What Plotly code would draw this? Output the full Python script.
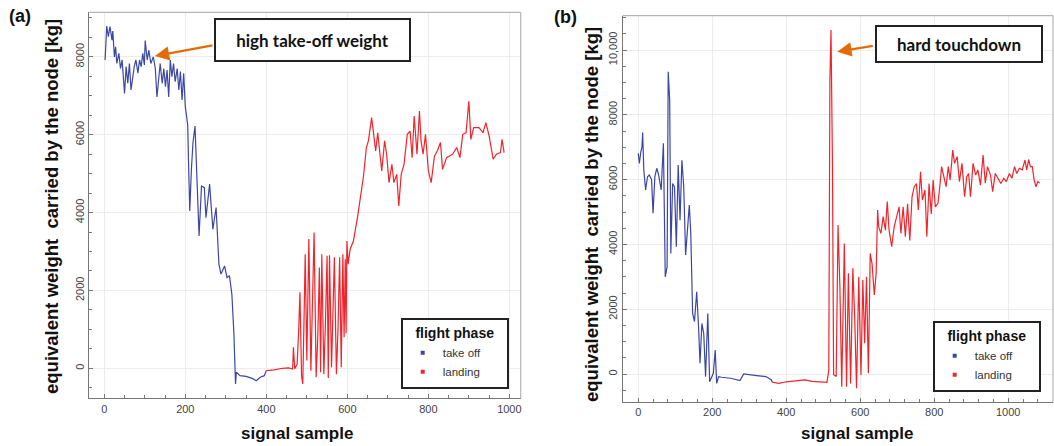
import plotly.graph_objects as go

# ---------------- data ----------------
# panel (a)
a_takeoff_x = [2, 6, 10, 14, 19, 21, 25, 28, 31, 36, 40, 44, 50, 54, 58, 62, 66, 70, 74, 78,
               83, 87, 91, 95, 99, 101, 106, 110, 115, 121, 126, 130, 134, 138, 143, 147, 151, 155, 159, 163,
               167, 171, 175, 180, 184, 188, 192, 196, 200, 203, 206, 208, 211, 215, 219, 224, 230, 234, 240, 247,
               251, 260, 268, 276, 283, 288, 297, 303, 309, 315, 320, 324, 326, 335, 350, 365, 375, 385, 395, 400]
a_takeoff_y = [7920, 8790, 8520, 8780, 8430, 8660, 8000, 8260, 7830, 8090, 7700, 7920, 7060, 7750, 7320, 7830, 7150, 7490, 7750, 7920,
               7580, 7920, 7750, 8090, 7790, 8420, 7920, 8170, 7830, 8000, 7700, 6970, 7490, 7830, 7320, 7700, 7230, 7660, 6970, 7920,
               7490, 7830, 7360, 7700, 7150, 7620, 6890, 7580, 6720, 6400, 6250, 5300, 4040, 5100, 5800, 6220, 4640, 3400, 4680, 4640,
               3870, 4730, 3570, 4130, 2675, 2420, 2630, 2330, 2380, 1900, 880, -400, -100, -190, -210, -260, -320, -230, -190, -60]
a_landing_x = [400, 420, 440, 455, 465, 467, 470, 476, 480, 483, 487, 490, 493, 496, 500, 505, 510, 514, 518, 523,
               527, 531, 534, 537, 542, 546, 550, 553, 556, 561, 565, 568, 573, 577, 581, 585, 589, 592, 595, 597,
               599, 602, 607, 615, 625, 632, 640, 647, 652, 660, 665, 670, 675, 680, 685, 692, 697, 703, 710, 715,
               722, 727, 733, 740, 748, 755, 760, 765, 772, 778, 782, 787, 793, 800, 807, 815, 822, 830, 835, 845,
               860, 870, 878, 885, 893, 900, 905, 912, 925, 935, 942, 950, 960, 968, 978, 982, 987]
a_landing_y = [-60, -40, 0, 10, -20, 540, -10, 100, 1000, 1950, -200, -400, 1200, 2930, 200, 3320, -60, 1500, 3490, -230,
               800, 2590, -100, 2930, -150, 1200, 2890, -250, 2900, 30, 1500, 2850, -150, 1000, 2850, 25, 2930, 800, 2800, 900,
               3270, 2675, 3060, 3270, 3870, 4430, 4940, 5670, 5840, 6440, 5920, 5580, 6050, 5500, 5070, 5840, 5500, 4770, 5240, 4770,
               4980, 4170, 4980, 5240, 6010, 6090, 5410, 6480, 5500, 6610, 5840, 5500, 6010, 5070, 4770, 5450, 5580, 5800, 5110, 5410,
               5500, 5670, 5410, 6010, 6050, 6860, 5880, 6180, 6180, 6050, 6310, 5970, 5370, 5500, 5540, 5880, 5540]

# panel (b)
b_takeoff_x = [0, 3, 7, 10, 12, 15, 20, 25, 30, 36, 40, 45, 50, 55, 62, 68, 73, 78, 81, 85,
               88, 93, 98, 103, 108, 113, 118, 123, 128, 133, 138, 142, 147, 152, 158, 163, 167, 172, 177, 182,
               188, 193, 198, 203, 208, 212, 217, 225, 250, 275, 285, 300, 320, 345, 360, 362]
b_takeoff_y = [6810, 6500, 6860, 7000, 7450, 6300, 5680, 6090, 6140, 6000, 4960, 6100, 6350, 6150, 5680, 7120, 3000, 3310, 9330, 8460,
               3720, 5880, 5770, 3930, 6450, 4750, 6600, 5770, 3670, 4340, 5215, 4340, 1870, 1620, 2540, 1460, 330, 1560, 1250, -80,
               1870, -240, -80, 20, 740, -290, -80, -100, -130, -200, 0, -30, -50, -80, -185, -250]
b_landing_x = [362, 380, 400, 430, 450, 470, 490, 510, 515, 518, 521, 525, 528, 535, 540, 545, 550, 557, 563, 568,
               574, 580, 585, 590, 596, 602, 607, 612, 617, 622, 627, 632, 638, 643, 647, 650, 656, 662, 668, 673,
               678, 685, 692, 698, 705, 710, 716, 722, 728, 734, 740, 746, 752, 757, 763, 768, 775, 780, 786, 792,
               797, 803, 810, 815, 820, 826, 832, 838, 843, 850, 855, 862, 868, 875, 882, 888, 893, 898, 905, 912,
               918, 925, 932, 938, 944, 952, 958, 965, 972, 980, 988, 995, 1003, 1010, 1017, 1023, 1030, 1038, 1045, 1050,
               1055, 1060, 1065, 1070, 1075, 1080, 1085]
b_landing_y = [-250, -290, -240, -200, -180, -230, -240, -260, 120, 9070, 10620, 6400, -20, -80, 4600, 2700, -390, 4030, -390, 3110,
               -290, 3260, 1770, -440, 3000, -30, 2900, 950, 3000, 20, 3720, 3400, 2440, 3110, 5060, 4530, 4340, 4860, 4440, 5320,
               4440, 3930, 4560, 4860, 5160, 4340, 5160, 4240, 5250, 4120, 5470, 5780, 5880, 5060, 6240, 5370, 5680, 4240, 5880, 4940,
               5990, 5160, 5270, 5780, 6400, 6090, 5780, 6400, 5990, 6910, 6500, 6710, 5940, 6500, 5470, 6090, 6190, 5470, 6500, 6140,
               6300, 5830, 6760, 5890, 6400, 6140, 5630, 6190, 6040, 5880, 6040, 5940, 6190, 6040, 6400, 6190, 6350, 6300, 6600, 6300,
               6620, 6400, 6400, 5990, 5780, 5940, 5890]

phase_names = ["take off", "landing"]
phase_colors = ["#3C46A5", "#F0242C"]
a_yticks = [0, 2000, 4000, 6000, 8000]
a_yticktext = ["0", "2000", "4000", "6000", "8000"]
b_yticks = [0, 2000, 4000, 6000, 8000, 10000]
b_yticktext = ["0", "2000", "4000", "6000", "8000", "10,000"]
x_title = "signal sample"
y_title = "equivalent weight&nbsp; carried by the node [kg]"
legend_title = "flight phase"

W, H = 1054, 446
FONT = "Liberation Sans, Arial, sans-serif"

fig = go.Figure()

series = [
    ("x", "y", "legend", a_takeoff_x, a_takeoff_y, a_landing_x, a_landing_y),
    ("x2", "y2", "legend2", b_takeoff_x, b_takeoff_y, b_landing_x, b_landing_y),
]
for xa, ya, lg, tx, ty, lx, ly in series:
    for (xs, ys), name, col in zip([(tx, ty), (lx, ly)], phase_names, phase_colors):
        fig.add_trace(go.Scatter(x=xs, y=ys, mode="lines", line=dict(color=col, width=1.2),
                                 xaxis=xa, yaxis=ya, showlegend=False, hoverinfo="skip"))
    for name, col in zip(phase_names, phase_colors):
        fig.add_trace(go.Scatter(x=[None], y=[None], mode="markers", name=name,
                                 marker=dict(symbol="square", size=4, color=col),
                                 xaxis=xa, yaxis=ya, legend=lg, showlegend=True))

tickfont = dict(family=FONT, size=11, color="#444")
common_x = dict(dtick=200, showgrid=True, gridcolor="#ececec", gridwidth=1, zeroline=False,
                showline=True, linecolor="#777", linewidth=1.2, ticks="inside", ticklen=4,
                tickcolor="#777", tickfont=tickfont)
common_y = dict(showgrid=True, gridcolor="#ececec", gridwidth=1, zeroline=False,
                showline=True, linecolor="#777", linewidth=1.2, ticks="inside", ticklen=4,
                tickcolor="#777", tickfont=tickfont, tickangle=-90)

pad = "&nbsp;&nbsp;&#8201;"
legend_style = dict(xanchor="left", yanchor="top",
                    bgcolor="white", bordercolor="#222", borderwidth=2,
                    font=dict(family=FONT, size=11.5, color="#333"),
                    title=dict(text=pad + "<b>" + legend_title + "</b>" + pad, side="top center",
                               font=dict(family=FONT, size=14, color="#111")),
                    itemwidth=30, tracegroupgap=0)

fig.update_layout(
    width=W, height=H, margin=dict(l=0, r=0, t=0, b=0),
    paper_bgcolor="white", plot_bgcolor="white",
    font=dict(family=FONT, color="#222"),
    xaxis=dict(domain=[89.3 / W, 520.7 / W], range=[-37, 1028],
               minor=dict(dtick=50, ticks="inside", ticklen=3, tickcolor="#777", showgrid=False),
               anchor="y", **common_x),
    yaxis=dict(domain=[1 - 398.3 / H, 1 - 12.3 / H], range=[-771, 9144],
               tickvals=a_yticks, ticktext=a_yticktext,
               minor=dict(dtick=500, ticks="inside", ticklen=3, tickcolor="#777", showgrid=False),
               anchor="x", **common_y),
    xaxis2=dict(domain=[622.7 / W, 1053 / W], range=[-42, 1121],
                minor=dict(dtick=40, ticks="inside", ticklen=3, tickcolor="#777", showgrid=False),
                anchor="y2", **common_x),
    yaxis2=dict(domain=[1 - 402 / H, 1 - 15.7 / H], range=[-864, 11059],
                tickvals=b_yticks, ticktext=b_yticktext,
                minor=dict(dtick=500, ticks="inside", ticklen=3, tickcolor="#777", showgrid=False),
                anchor="x2", **common_y),
    legend=dict(x=400.7 / W, y=1 - 318 / H, **legend_style),
    legend2=dict(x=932.7 / W, y=1 - 321 / H, **legend_style),
)

# lighter top/right frame lines
for xd, yd in [("x domain", "y domain"), ("x2 domain", "y2 domain")]:
    fig.add_shape(type="line", xref=xd, yref=yd, x0=0, x1=1, y0=1, y1=1,
                  line=dict(color="#b5b5b5", width=1.2))
    fig.add_shape(type="line", xref=xd, yref=yd, x0=1, x1=1, y0=0, y1=1,
                  line=dict(color="#b5b5b5", width=1.2))

ann = []
# panel labels
ann.append(dict(text="<b>(a)</b>", x=7 / W, y=1 - 16 / H, xref="paper", yref="paper",
                xanchor="left", yanchor="middle", showarrow=False, font=dict(family=FONT, size=18, color="#111")))
ann.append(dict(text="<b>(b)</b>", x=551.7 / W, y=1 - 17 / H, xref="paper", yref="paper",
                xanchor="left", yanchor="middle", showarrow=False, font=dict(family=FONT, size=18, color="#111")))
# axis titles
for xc, yc in [(51.5, 206.5), (592, 215)]:
    ann.append(dict(text="<b>" + y_title + "</b>", x=xc / W, y=1 - yc / H, xref="paper", yref="paper",
                    xanchor="center", yanchor="middle", textangle=-90, showarrow=False,
                    font=dict(family=FONT, size=18.5, color="#111")))
for xc in [297, 856.7]:
    ann.append(dict(text="<b>" + x_title + "</b>", x=xc / W, y=1 - 433 / H, xref="paper", yref="paper",
                    xanchor="center", yanchor="middle", showarrow=False,
                    font=dict(family=FONT, size=17, color="#111")))
# callout boxes
ann.append(dict(text="<b>high take-off weight</b>", x=312.4 / W, y=1 - 40 / H, xref="paper", yref="paper",
                xanchor="center", yanchor="middle", showarrow=False, width=193, height=40,
                bordercolor="#222", borderwidth=2, borderpad=0, bgcolor="white",
                font=dict(family="Lato, Open Sans, sans-serif", size=17, color="#111")))
ann.append(dict(text="<b>hard touchdown</b>", x=959 / W, y=1 - 43.5 / H, xref="paper", yref="paper",
                xanchor="center", yanchor="middle", showarrow=False, width=164, height=34,
                bordercolor="#222", borderwidth=2, borderpad=0, bgcolor="white",
                font=dict(family="Lato, Open Sans, sans-serif", size=17, color="#111")))
# arrows
ann.append(dict(text="", x=125, y=8020, xref="x", yref="y", ax=59, ay=-11, showarrow=True,
                arrowhead=2, arrowsize=1.3, arrowwidth=2.2, arrowcolor="#E36C0A"))
ann.append(dict(text="", x=538, y=9948, xref="x2", yref="y2", ax=37, ay=-6, showarrow=True,
                arrowhead=2, arrowsize=1.3, arrowwidth=2.2, arrowcolor="#E36C0A"))
fig.update_layout(annotations=ann)

fig.write_html("out.html")
